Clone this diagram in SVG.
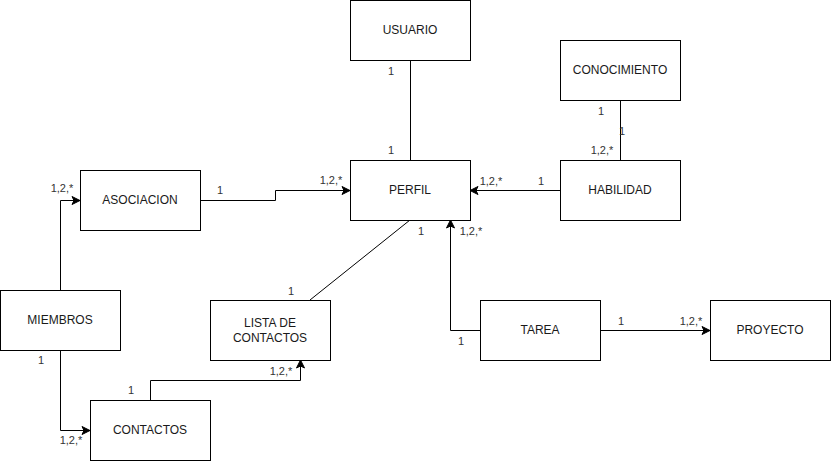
<svg xmlns="http://www.w3.org/2000/svg" width="831" height="461" viewBox="0 0 831 461">
<style>
.n rect{fill:#fff;stroke:#000;stroke-width:1}
.n text{font-family:"Liberation Sans",Arial,sans-serif;font-size:12px;fill:#1a1a1a;text-anchor:middle;dominant-baseline:central}
.e path{fill:none;stroke:#000;stroke-width:1}
.l text{font-family:"Liberation Sans",Arial,sans-serif;font-size:11px;fill:#333;text-anchor:middle;dominant-baseline:central}
</style>
<defs>
<marker id="a" markerWidth="10" markerHeight="10" refX="9" refY="5" orient="auto" markerUnits="userSpaceOnUse">
<path d="M1,1 L9,5 L1,9 L3,5 Z" fill="#000" stroke="#000" stroke-width="1"/>
</marker>
</defs>
<rect width="831" height="461" fill="#fff"/>
<g class="e">
<path d="M410.5,60 V160"/>
<path d="M620.5,100 V160"/>
<path d="M560,190.5 H470" marker-end="url(#a)"/>
<path d="M200,200.5 H275.5 V190.5 H350" marker-end="url(#a)"/>
<path d="M60.5,290 V200.5 H80" marker-end="url(#a)"/>
<path d="M60.5,350 V430.5 H90" marker-end="url(#a)"/>
<path d="M150.5,400 V380.5 H300.5 V360" marker-end="url(#a)"/>
<path d="M410,220 L310,300"/>
<path d="M480,330.5 H450.5 V220" marker-end="url(#a)"/>
<path d="M600,330.5 H710" marker-end="url(#a)"/>
</g>
<g id="usuario" class="n"><rect x="350.5" y="0.5" width="120" height="60"/><text x="410" y="30">USUARIO</text></g>
<g id="conocimiento" class="n"><rect x="560.5" y="40.5" width="120" height="60"/><text x="620" y="70">CONOCIMIENTO</text></g>
<g id="perfil" class="n"><rect x="350.5" y="160.5" width="120" height="60"/><text x="410" y="190">PERFIL</text></g>
<g id="habilidad" class="n"><rect x="560.5" y="160.5" width="120" height="60"/><text x="620" y="190">HABILIDAD</text></g>
<g id="asociacion" class="n"><rect x="80.5" y="170.5" width="120" height="60"/><text x="140" y="200">ASOCIACION</text></g>
<g id="miembros" class="n"><rect x="0.5" y="290.5" width="120" height="60"/><text x="60" y="320">MIEMBROS</text></g>
<g id="lista" class="n"><rect x="210.5" y="300.5" width="120" height="60"/><text x="270" y="323">LISTA DE</text><text x="270" y="338">CONTACTOS</text></g>
<g id="tarea" class="n"><rect x="480.5" y="300.5" width="120" height="60"/><text x="540" y="330">TAREA</text></g>
<g id="proyecto" class="n"><rect x="710.5" y="300.5" width="120" height="60"/><text x="770" y="330">PROYECTO</text></g>
<g id="contactos" class="n"><rect x="90.5" y="400.5" width="120" height="60"/><text x="150" y="430">CONTACTOS</text></g>
<g class="l">
<text x="391" y="71">1</text>
<text x="391" y="150">1</text>
<text x="601" y="111">1</text>
<text x="622" y="131">1</text>
<text x="602" y="150">1,2,*</text>
<text x="491" y="181">1,2,*</text>
<text x="541" y="181">1</text>
<text x="62" y="188">1,2,*</text>
<text x="220" y="190">1</text>
<text x="331" y="180">1,2,*</text>
<text x="421" y="231">1</text>
<text x="471" y="231">1,2,*</text>
<text x="291" y="291">1</text>
<text x="41" y="360">1</text>
<text x="71" y="440">1,2,*</text>
<text x="131" y="390">1</text>
<text x="281" y="371">1,2,*</text>
<text x="461" y="341">1</text>
<text x="621" y="321">1</text>
<text x="691" y="321">1,2,*</text>
</g>
</svg>
